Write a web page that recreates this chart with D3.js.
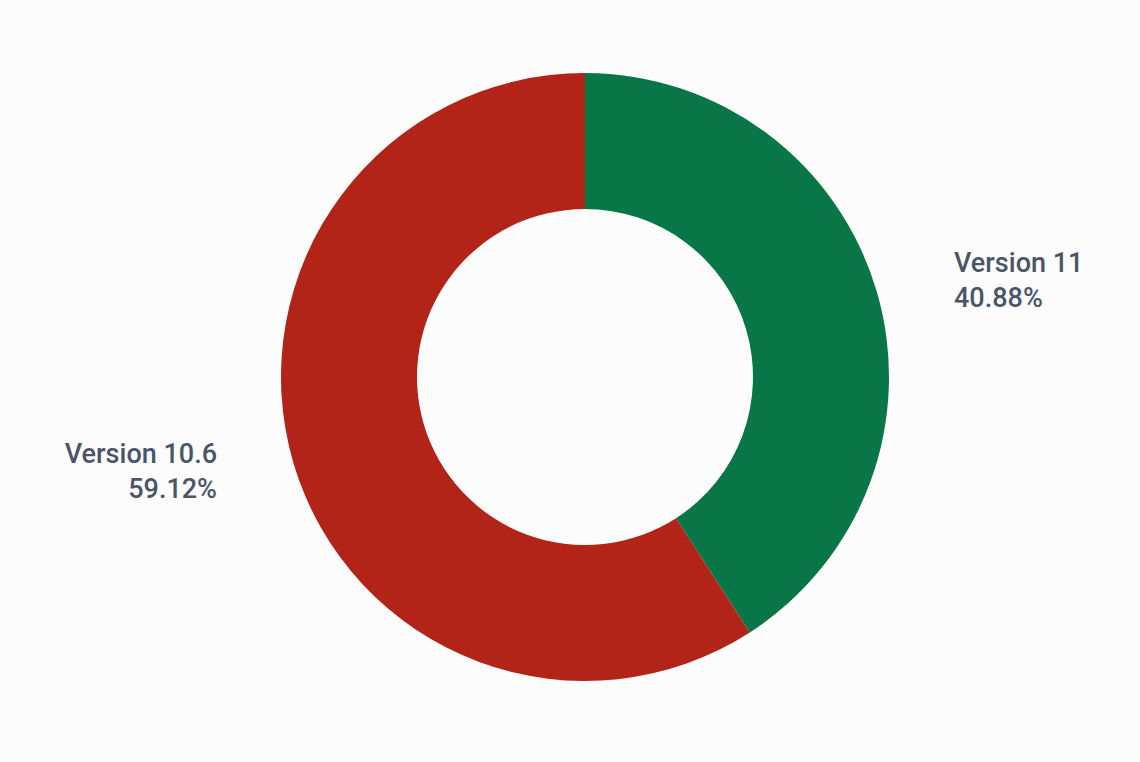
<!DOCTYPE html>
<html><head><meta charset="utf-8">
<script src="https://cdn.jsdelivr.net/npm/d3@7"></script>
<style>html,body{margin:0;padding:0;background:#fcfcfc;}svg{display:block;}</style>
</head><body>
<svg id="c" width="1140" height="762"></svg>
<script>
const categories = ["Version 11", "Version 10.6"];
const values = [40.88, 59.12];
const colors = ["#087647", "#b22318"];

const svg = d3.select("#c");
const cx = 585, cy = 377, rOuter = 304, rInner = 168;
const g = svg.append("g").attr("transform", `translate(${cx},${cy})`);
const pie = d3.pie().sort(null).value(d => d.v);
const data = pie(categories.map((c, i) => ({c, v: values[i], col: colors[i]})));
const arc = d3.arc().innerRadius(rInner).outerRadius(rOuter);
g.selectAll("path").data(data).join("path").attr("d", arc).attr("fill", d => d.data.col);

const labR = 337;
data.forEach(d => {
  const a = (d.startAngle + d.endAngle) / 2;
  const right = Math.sin(a) > 0;
  const y = -Math.cos(a) * labR;
  const x = right ? rOuter + 65 : -rOuter - 64;
  const t = g.append("text").attr("x", x).attr("y", y)
    .attr("text-anchor", right ? "start" : "end")
    .attr("font-family", "Roboto, sans-serif").attr("font-weight", 500)
    .attr("font-size", 27).attr("fill", "#4a5568");
  t.append("tspan").attr("x", x).attr("dy", "-0.35em").text(d.data.c);
  t.append("tspan").attr("x", x).attr("dy", "1.3em").text(d3.format(".2f")(d.data.v) + "%");
});
</script>
</body></html>
